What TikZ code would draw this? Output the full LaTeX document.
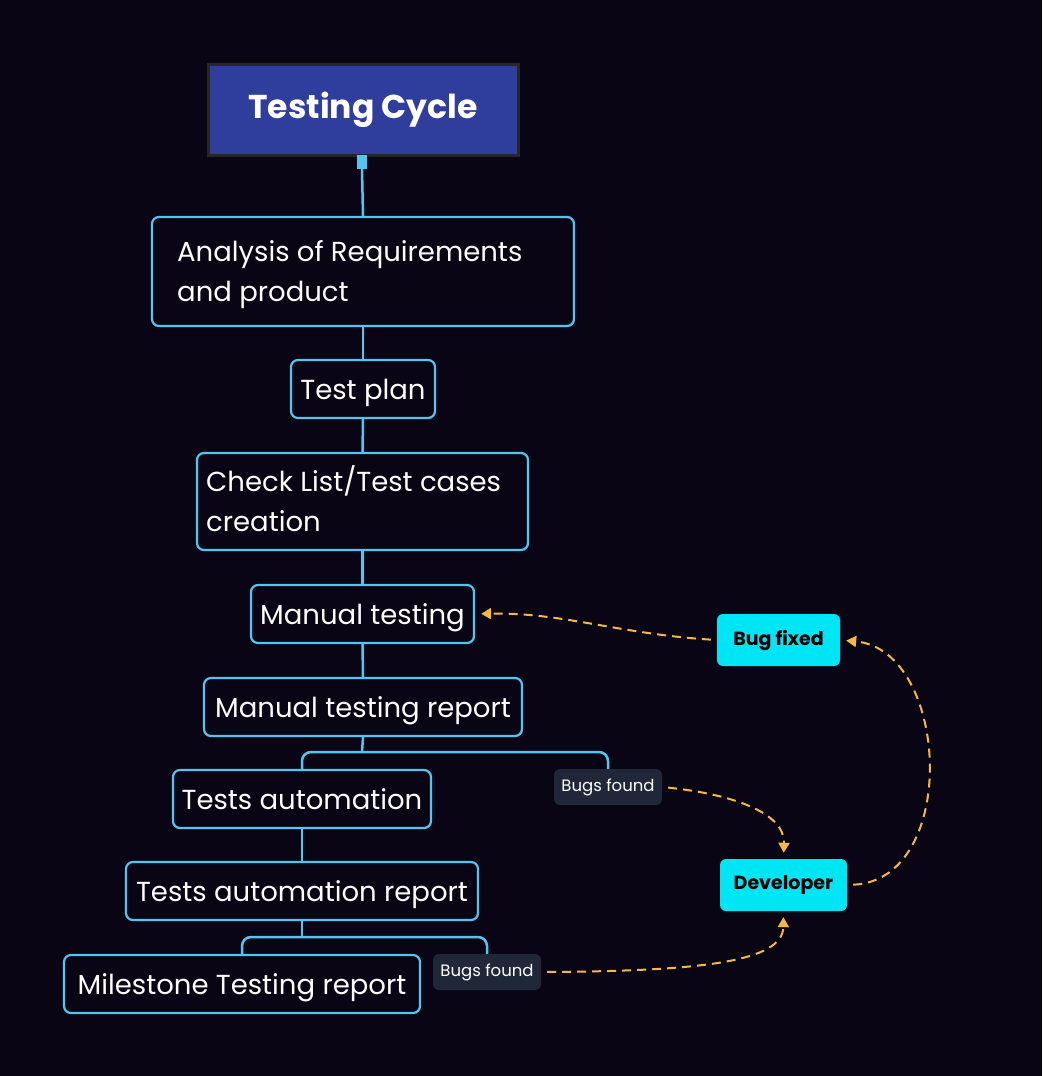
\documentclass[tikz,border=0pt]{standalone}
\usepackage{fontspec}
\setmainfont{Poppins}
\usetikzlibrary{arrows.meta}
\definecolor{bg}{HTML}{0A0514}
\definecolor{edge}{HTML}{52C6F0}
\definecolor{titlefill}{HTML}{2F3D9C}
\definecolor{titleborder}{HTML}{262626}
\definecolor{tagfill}{HTML}{1F2739}
\definecolor{cyanbox}{HTML}{00E5F3}
\definecolor{orangeline}{HTML}{F5B942}
\tikzset{
  topic/.style={draw=edge, line width=2.2pt, rounded corners=7pt, fill=bg, text=white,
    font=\fontsize{27.5}{40}\selectfont, inner sep=0pt, text height=26pt, text depth=6pt},
  tag/.style={fill=tagfill, rounded corners=6pt, text=white, font=\fontsize{16.5}{18}\selectfont, inner sep=0pt},
  person/.style={fill=cyanbox, rounded corners=6pt, text=black, font=\bfseries\fontsize{19}{22}\selectfont, inner sep=0pt},
  link/.style={edge, line width=2.5pt},
  rel/.style={orangeline, line width=2pt, dash pattern=on 9pt off 6pt, -{Triangle[width=11pt,length=10pt]}, shorten <=6pt, shorten >=6pt}
}
\begin{document}
\begin{tikzpicture}[x=1pt,y=-1pt]
\fill[bg] (0,0) rectangle (1042,1076);
\useasboundingbox (0,0) rectangle (1042,1076);

% title
\node[fill=titlefill, draw=titleborder, line width=3pt, minimum width=310pt, minimum height=91pt, inner sep=0pt,
  text=white, font=\bfseries\fontsize{33}{40}\selectfont] (title) at (363,109.5) {Testing Cycle};
\node[fill=edge, minimum width=10pt, minimum height=14pt, inner sep=0pt] (sq) at (362,162) {};

\node[topic, minimum width=422pt, minimum height=109pt] (ar) at (363,271.5) {};
\node[text=white, font=\fontsize{27.5}{40}\selectfont, anchor=west, align=left, inner sep=0pt] (art) at (177,275) {Analysis of Requirements\\and product};

\node[topic, minimum width=144pt, minimum height=58pt] (tp) at (363,389) {Test plan};

\node[topic, minimum width=331pt, minimum height=97pt] (cl) at (362.5,501.5) {};
\node[text=white, font=\fontsize{27.5}{40}\selectfont, anchor=west, align=left, inner sep=0pt] (clt) at (206,499) {Check List/Test cases\\creation};

\node[topic, minimum width=223pt, minimum height=58pt] (mt) at (362.5,614) {Manual testing};
\node[topic, minimum width=318pt, minimum height=58pt] (mtr) at (363,707) {Manual testing report};
\node[topic, minimum width=258pt, minimum height=58pt] (ta) at (302,799) {Tests automation};
\node[topic, minimum width=352pt, minimum height=58pt] (tar) at (302,891) {Tests automation report};
\node[topic, minimum width=356pt, minimum height=58pt] (ms) at (242,984) {Milestone Testing report};

\node[tag, minimum width=108pt, minimum height=36pt] (bf1) at (608,787) {Bugs found};
\node[tag, minimum width=108pt, minimum height=36pt] (bf2) at (487,972) {Bugs found};

\node[person, minimum width=127pt, minimum height=52pt] (dev) at (783.5,885) {Developer};
\node[person, minimum width=123pt, minimum height=52pt] (fix) at (778.5,640) {Bug fixed};

\coordinate (j1) at (362,752);
\coordinate (j2) at (302,937);

% tree links
\draw[link] (sq.south) -- (ar.north);
\draw[link] (ar.south) -- (tp.north);
\draw[link] (tp.south) -- (cl.north);
\draw[link] (cl.south) -- (mt.north);
\draw[link] (mt.south) -- (mtr.north);
\draw[link] (mtr.south) -- (j1);
\draw[link, rounded corners=9pt] (ta.north) |- (j1) -| (bf1.north);
\draw[link] (ta.south) -- (tar.north);
\draw[link] (tar.south) -- (j2);
\draw[link, rounded corners=9pt] (ms.north) |- (j2) -| (bf2.north);

% relations
\draw[rel] (bf1.east) .. controls (730,794) and (785,812) .. (dev.north);
\draw[rel] (bf2.east) .. controls (700,971) and (783,962) .. (dev.south);
\draw[rel] (dev.east) .. controls (960,880) and (950,650) .. (fix.east);
\draw[rel] (fix.west) .. controls (620,634) and (560,612) .. (mt.east);
\end{tikzpicture}
\end{document}
